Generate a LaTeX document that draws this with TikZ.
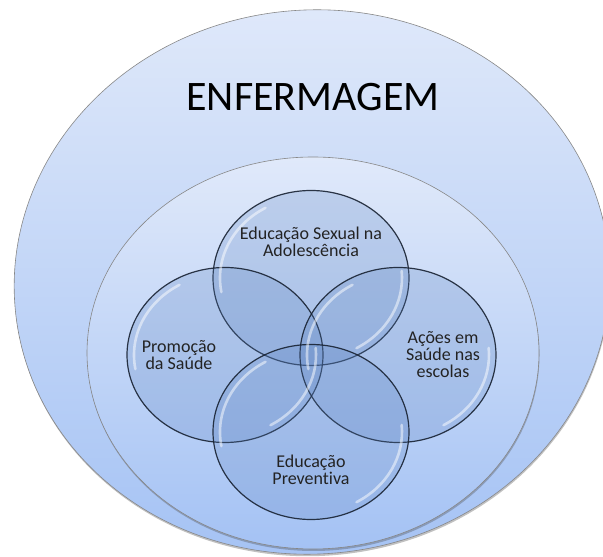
\documentclass[tikz,border=0pt]{standalone}
\usepackage{fontspec}
\setmainfont{Carlito}[Ligatures=NoCommon]
\usepackage{tikz}
\usetikzlibrary{shapes.geometric,shadows,calc}

\definecolor{ringtop}{RGB}{224,233,250}
\definecolor{ringbottom}{RGB}{164,194,244}
\definecolor{ringline}{RGB}{135,135,135}
\definecolor{glassin}{RGB}{88,128,190}
\definecolor{glassrim}{RGB}{25,50,95}
\definecolor{glassline}{RGB}{24,34,50}
\definecolor{labeltext}{RGB}{35,35,35}

% bubble fill: flat in the middle, darker towards the rim
\pgfdeclareradialshading{glassball}{\pgfpoint{0bp}{0bp}}{%
  color(0bp)=(glassin); color(32bp)=(glassin);
  color(45bp)=(glassin!80!glassrim); color(50bp)=(glassrim)}

\begin{document}
\begin{tikzpicture}[
    x=1pt, y=1pt,
    ring/.style={draw=ringline, line width=0.6pt, top color=ringtop, bottom color=ringbottom,
      drop shadow={shadow xshift=0.5pt, shadow yshift=-2pt, opacity=0.35, fill=black!70}},
    bubble/.style={ellipse, minimum width=196pt, minimum height=175pt, inner sep=0pt,
      shading=glassball, fill opacity=0.23, draw=glassline, draw opacity=0.9, line width=1.2pt},
    shine/.style={draw=white, line width=2.6pt, line cap=round, opacity=0.5},
    caption/.style={align=center, text=labeltext, font=\fontsize{18}{17}\selectfont}
]
\useasboundingbox (0,0) rectangle (603,557);

% outer ring
\path[ring, rotate around={5:(312,275)}] (312,275) ellipse[x radius=298pt, y radius=272pt];
\node[font=\fontsize{42}{42}\selectfont] (enf) at (313,460) {ENFERMAGEM};

% inner ring
\node[ring, ellipse, minimum width=452pt, minimum height=392pt, inner sep=0pt] (inner) at (313,204) {};

% four bubbles
\node[bubble] (esa) at (311,279) {};
\node[bubble] (ps) at (225,202) {};
\node[bubble] (ase) at (398,202) {};
\node[bubble] (ep) at (311,125) {};

% glass highlights
\draw[shine] (esa.center) ++(120:91pt and 81pt) arc[start angle=120, end angle=190, x radius=91pt, y radius=81pt];
\draw[shine] (esa.center) ++(-60:91pt and 81pt) arc[start angle=-60, end angle=5, x radius=91pt, y radius=81pt];
\draw[shine] (ps.center) ++(120:91pt and 81pt) arc[start angle=120, end angle=190, x radius=91pt, y radius=81pt];
\draw[shine] (ps.center) ++(-60:91pt and 81pt) arc[start angle=-60, end angle=5, x radius=91pt, y radius=81pt];
\draw[shine] (ase.center) ++(120:91pt and 81pt) arc[start angle=120, end angle=190, x radius=91pt, y radius=81pt];
\draw[shine] (ase.center) ++(-60:91pt and 81pt) arc[start angle=-60, end angle=5, x radius=91pt, y radius=81pt];
\draw[shine] (ep.center) ++(120:91pt and 81pt) arc[start angle=120, end angle=190, x radius=91pt, y radius=81pt];
\draw[shine] (ep.center) ++(-60:91pt and 81pt) arc[start angle=-60, end angle=5, x radius=91pt, y radius=81pt];

\node[caption] (esa-txt) at ([yshift=36.5pt]esa.center) {Educação Sexual na\\Adolescência};
\node[caption] (ps-txt) at ([xshift=-46pt]ps.center) {Promoção\\da Saúde};
\node[caption] (ase-txt) at ([xshift=45pt]ase.center) {Ações em\\Saúde nas\\escolas};
\node[caption] (ep-txt) at ([yshift=-38pt]ep.center) {Educação\\Preventiva};
\end{tikzpicture}
\end{document}
